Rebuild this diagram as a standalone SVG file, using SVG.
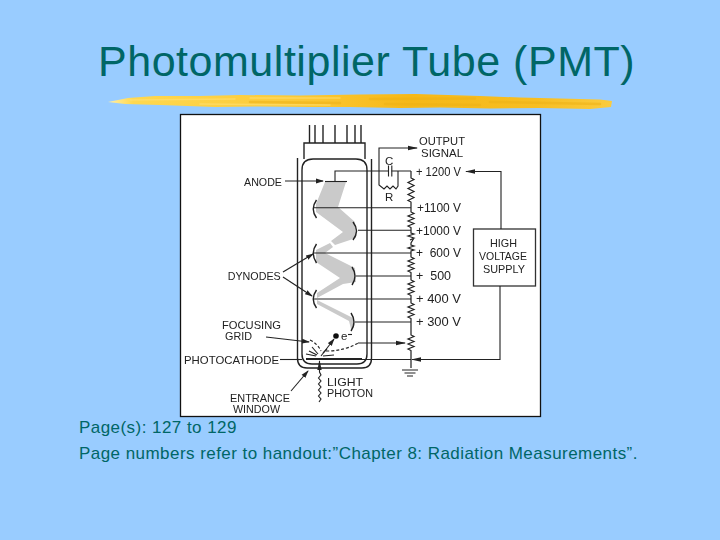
<svg xmlns="http://www.w3.org/2000/svg" width="720" height="540" viewBox="0 0 720 540">
<style>
.w{fill:none;stroke:#222;stroke-width:1.100}
.t{fill:none;stroke:#222;stroke-width:1.400}
.z{fill:none;stroke:#222;stroke-width:1.200;stroke-linejoin:miter}
.g{fill:#cacaca;stroke:none}
.l{font-family:"Liberation Sans",Arial,sans-serif;font-size:11.5px;fill:#222}
.v{font-family:"Liberation Sans",Arial,sans-serif;font-size:12.5px;fill:#222}
.b{font-family:"Liberation Sans",Arial,sans-serif;font-size:17px;fill:#006666;letter-spacing:.45px}
.s{fill:none;stroke-linecap:round;stroke-opacity:.55}
</style>
<defs>
<linearGradient id="gold" x1="0" x2="1" y1="0" y2="0">
<stop offset="0" stop-color="#FFF0A8"/><stop offset=".05" stop-color="#FFD84F"/><stop offset=".35" stop-color="#FCCB3A"/><stop offset=".6" stop-color="#F6B817"/><stop offset=".85" stop-color="#F7BE22"/><stop offset="1" stop-color="#FBCB3E"/>
</linearGradient>
<filter id="soft" filterUnits="userSpaceOnUse" x="170" y="105" width="380" height="320"><feGaussianBlur stdDeviation="0.35"/></filter>
<marker id="ah" markerWidth="8" markerHeight="6" refX="7" refY="3" orient="auto" markerUnits="userSpaceOnUse"><path d="M0 0.6L8 3L0 5.4Z" fill="#222"/></marker>
<marker id="ahl" markerWidth="10" markerHeight="6" refX="9" refY="3" orient="auto" markerUnits="userSpaceOnUse"><path d="M0 0.8L10 3L0 5.2Z" fill="#222"/></marker>
</defs>
<rect width="720" height="540" fill="#99CCFF"/>
<g id="title"><text x="98" y="75.500" font-family="'Liberation Sans',Arial,sans-serif" font-size="43px" letter-spacing=".53" fill="#006666">Photomultiplier Tube (PMT)</text></g>
<g id="brush">
<path fill="url(#gold)" d="M108 102L128 98L155 96L200 96L240 95L300 95.500L360 94.500L416 94L480 96L520 97.500L560 98.500L600 99.500L612 101L611 107L590 109L540 108L490 108.500L440 107.500L400 108L350 107L310 107L260 106.500L215 107L160 105L125 104Z"/>
<path class="s" stroke="#EDB015" stroke-width="2.500" d="M250 102L340 103M370 99L475 98.500M385 104L480 105M490 102L600 104"/>
<path class="s" stroke="#FFE27A" stroke-width="1.500" d="M130 100L235 99M250 98L340 98M200 104L330 105"/>
</g>
<g id="figure"><rect x="180.500" y="114.500" width="360" height="302" fill="#fff" stroke="#111" stroke-width="1.300"/></g>
<g filter="url(#soft)">
<g id="beam">
<path class="g" d="M325 182L346 182L338 207L355 222L356 238L335 245L331 241L343 232L316 212L316 204Z"/>
<path class="g" d="M316 250L330 243L333 247L325 253L355 268L356 282L343 284L317 298L317 293L340 278L316 262Z"/>
<path class="g" d="M317 300L353 318L355 325L351 329L349 321L317 304Z"/>
</g>
<g id="tube">
<path class="t" d="M297.500 158V358Q297.500 368 307 368H362Q371.500 368 371.500 358V159"/>
<path class="t" d="M302 170Q302 159 313 159H356Q367 159 367 170V354Q367 364 357 364H312Q302 364 302 354Z"/>
<path class="t" d="M304 159V143H365V159"/>
<path class="t" d="M309.500 125V143M315 125V143M323 125V143M335 125V143M347 125V143M355 125V143M361 125V143"/>
<path d="M306 359H362" stroke="#222" stroke-width="2" fill="none"/>
</g>
<g id="dynodes">
<path class="t" stroke-width="1.600" d="M316.500 200Q310 209 316.500 218M316.500 244Q310 253 316.500 263M316.500 290Q310 299 316.500 308"/>
<path class="t" stroke-width="1.600" d="M353 222Q360 231 353 240M352 267Q358 276 352 285M351 313Q357 322 351 331"/>
</g>
<g id="resistors">
<path class="z" d="M411 171V178l3 1.500 -6 3 6 3 -6 3 6 3 -6 3 6 3 -6 3 3 1.500V212l3 1.500 -6 2.500 6 2.500 -6 2.500 6 2.500 -6 2.500 3 1.500V233l3 1 -6 2 6 2 -4 2M414 238l-3 5V245l3 1 -6 2 6 2 -3 1V257l3 1.500 -6 2.500 6 2.500 -6 2.500 6 2.500 -6 2.500 3 1.500V280l3 1.500 -6 2.500 6 2.500 -6 2.500 6 2.500 -6 2.500 3 1.500V303l3 1.500 -6 2.500 6 2.500 -6 2.500 6 2.500 -6 2.500 3 1.500V335l3 1.500 -6 2.500 6 2.500 -6 2.500 6 2.500 -6 2.500 3 1.500V368"/>
<path class="w" stroke-width="1.400" d="M402 370H418M404.500 373H415.500M407 376H413"/>
</g>
<g id="hv-supply">
<rect x="473.500" y="229" width="62" height="57" fill="#fff" stroke="#333" stroke-width="1.300"/>
<text class="l" x="490" y="246.700" textLength="27" lengthAdjust="spacingAndGlyphs">HIGH</text>
<text class="l" x="479" y="260" textLength="48" lengthAdjust="spacingAndGlyphs">VOLTAGE</text>
<text class="l" x="483" y="272.700" textLength="42" lengthAdjust="spacingAndGlyphs">SUPPLY</text>
</g>
<g id="connectors">
<path class="w" d="M335 181V171H388M391.500 171H411"/>
<path class="w" stroke-width="1.400" d="M388.500 165.500V176.500M391.800 165.500V176.500"/>
<path class="w" stroke-width="1.500" d="M325 181.500H347"/>
<path class="w" d="M398 171V186l-2 3 -3 -3 -3 3 -3 -3 -3 3 -5 -4V148H417" marker-end="url(#ahl)"/>
<path class="w" d="M314 207.700H411M358 230.300H411M314 253H411M356 276H411M314 299H411M355 322H411"/>
<path class="w" d="M358 343H405" marker-end="url(#ahl)"/>
<path class="w" d="M501 229V171.500H466" marker-end="url(#ahl)"/>
<path class="w" d="M500 286V359.500H412" marker-end="url(#ahl)"/>
<path class="w" d="M362 359.500H411"/>
<path class="w" d="M285 181H323" marker-end="url(#ah)"/>
<path class="w" d="M283 272L313 254" marker-end="url(#ah)"/>
<path class="w" d="M283 277L312 296" marker-end="url(#ah)"/>
<path class="w" d="M266 337L309 342" marker-end="url(#ah)"/>
<path class="w" d="M280 359.500H302"/>
<path class="w" d="M291 391L308 371" marker-end="url(#ah)"/>
<path class="w" d="M321 356L334 339" marker-end="url(#ah)"/>
<path class="w" stroke-dasharray="3 2" d="M310 340Q318 344 321 351M326 351Q345 351 358 343"/>
<path class="w" d="M306 354L316 356M309 351L317 355M312 347L318 354M323 353L327 349M323 356L334 355"/>
<path class="w" stroke-width="1.300" marker-end="url(#ahl)" d="M319 402l2 -3 -2.500 -3 2.500 -3 -2.500 -3 2.500 -3 -2.500 -3 2.500 -3 -2.500 -3 2.500 -3 -1.500 -3V361"/>
</g>
<g id="electron"><circle cx="336" cy="336" r="2.800" fill="#111"/><text class="l" x="341" y="340">e</text><path class="w" d="M348 334.500H352"/></g>
<g id="labels">
<text class="l" x="244" y="185.500" textLength="38" lengthAdjust="spacingAndGlyphs">ANODE</text>
<text class="l" x="227.700" y="280" textLength="53" lengthAdjust="spacingAndGlyphs">DYNODES</text>
<text class="l" x="222" y="329" textLength="59" lengthAdjust="spacingAndGlyphs">FOCUSING</text>
<text class="l" x="225" y="340" textLength="27" lengthAdjust="spacingAndGlyphs">GRID</text>
<text class="l" x="184" y="364" textLength="95" lengthAdjust="spacingAndGlyphs">PHOTOCATHODE</text>
<text class="l" x="230" y="401.500" textLength="60" lengthAdjust="spacingAndGlyphs">ENTRANCE</text>
<text class="l" x="233" y="413.300" textLength="47" lengthAdjust="spacingAndGlyphs">WINDOW</text>
<text class="l" x="327" y="386" textLength="36" lengthAdjust="spacingAndGlyphs">LIGHT</text>
<text class="l" x="327" y="396.500" textLength="46" lengthAdjust="spacingAndGlyphs">PHOTON</text>
<text class="l" x="419" y="145" textLength="46" lengthAdjust="spacingAndGlyphs">OUTPUT</text>
<text class="l" x="421" y="156.700" textLength="42" lengthAdjust="spacingAndGlyphs">SIGNAL</text>
<text class="l" x="385" y="164.500">C</text>
<text class="l" x="385" y="200.700">R</text>
<text class="v" x="416" y="176" textLength="45" lengthAdjust="spacingAndGlyphs">+ 1200 V</text>
<text class="v" x="417" y="212" textLength="44" lengthAdjust="spacingAndGlyphs">+1100 V</text>
<text class="v" x="416" y="235" textLength="45" lengthAdjust="spacingAndGlyphs">+1000 V</text>
<text class="v" x="416" y="257.300" textLength="45" lengthAdjust="spacingAndGlyphs" xml:space="preserve">+  600 V</text>
<text class="v" x="416" y="280" textLength="35" lengthAdjust="spacingAndGlyphs" xml:space="preserve">+  500</text>
<text class="v" x="416" y="303.300" textLength="45" lengthAdjust="spacingAndGlyphs">+ 400 V</text>
<text class="v" x="416" y="326" textLength="45" lengthAdjust="spacingAndGlyphs">+ 300 V</text>
</g>
</g>
<g id="caption">
<text class="b" x="79" y="433">Page(s): 127 to 129</text>
<text class="b" x="79" y="459">Page numbers refer to handout:”Chapter 8: Radiation Measurements”.</text>
</g>
</svg>
